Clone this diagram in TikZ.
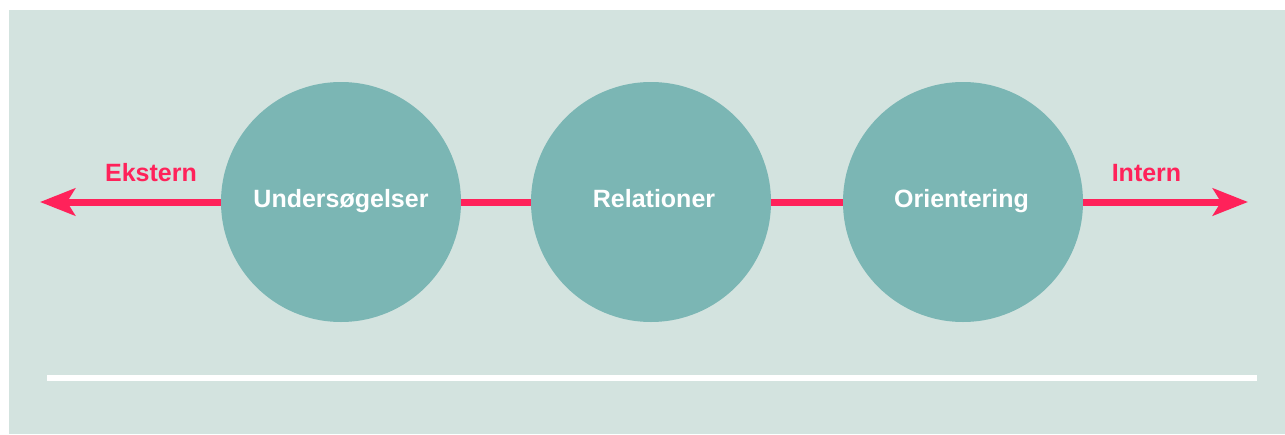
\documentclass[tikz,border=0pt]{standalone}
\usepackage{fontspec}
\setmainfont{Liberation Sans}
\usetikzlibrary{arrows.meta}
\definecolor{panel}{HTML}{D3E3DF}
\definecolor{disc}{HTML}{7BB6B4}
\definecolor{accent}{HTML}{FF225A}
\begin{document}
\begin{tikzpicture}[x=1pt,y=-1pt,
  stage/.style={circle,fill=disc,minimum size=240pt,inner sep=0pt},
  stagetext/.style={text=white,font=\fontsize{25}{29}\selectfont\bfseries,anchor=base},
  endlabel/.style={text=accent,font=\fontsize{25}{29}\selectfont\bfseries,anchor=base},
  axis/.style={draw=accent,line width=7pt},
  axishead/.style={-{Stealth[length=35pt,width=27pt,inset=8pt]}}
]
\useasboundingbox (0,0) rectangle (1285,434);
% backdrop panel and baseline rule
\fill[panel] (9,10) rectangle (1285,434);
\coordinate (ruleL) at (47,378);
\coordinate (ruleR) at (1257,378);
\draw[white,line width=6pt] (ruleL) -- (ruleR);
% free ends of the double arrow
\coordinate (tipL) at (40,202);
\coordinate (tipR) at (1248,202);
% the three stages
\node[stage] (s1) at (341,202) {};
\node[stage] (s2) at (651,202) {};
\node[stage] (s3) at (963,202) {};
% connectors between the stages and outwards
\draw[axis] (s1.east) -- (s2.west);
\draw[axis] (s2.east) -- (s3.west);
\draw[axis,axishead] (s1.west) -- (tipL);
\draw[axis,axishead] (s3.east) -- (tipR);
% labels
\node[stagetext] (t1) at (341,207.5) {Undersøgelser};
\node[stagetext] (t2) at (654,207.5) {Relationer};
\node[stagetext] (t3) at (961.5,207.5) {Orientering};
\node[endlabel] (ext) at (151,181.5) {Ekstern};
\node[endlabel] (int) at (1146.5,181.5) {Intern};
\end{tikzpicture}
\end{document}
